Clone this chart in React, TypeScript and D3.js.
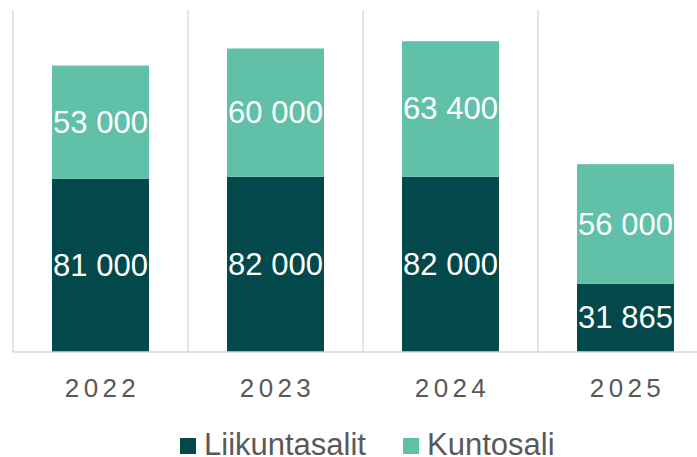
import { useMemo } from 'react';
import * as d3 from 'd3';

const years = ['2022', '2023', '2024', '2025'];
const liikuntasalit = [81000, 82000, 82000, 31865];
const kuntosali = [53000, 60000, 63400, 56000];
const seriesNames = ['Liikuntasalit', 'Kuntosali'];
const seriesColors = ['#03494b', '#61c0a8'];

const width = 697,
  height = 457;
const PLOT = { left: 13, right: 713, top: 10, bottom: 352 };
const FONT = 'Arial, "Liberation Sans", sans-serif';

const fmt = (v: number) => d3.format(',')(v).replace(/,/g, ' ');

export default function App() {
  const xScale = useMemo(
    () =>
      d3
        .scaleBand()
        .domain(years)
        .range([PLOT.left, PLOT.right])
        .paddingInner(0.446)
        .paddingOuter(0.223),
    []
  );
  const yScale = useMemo(
    () => d3.scaleLinear().domain([0, 160000]).range([PLOT.bottom, PLOT.top]),
    []
  );

  const rows = years.map((y, i) => ({ year: y, Liikuntasalit: liikuntasalit[i], Kuntosali: kuntosali[i] }));
  const stacked = d3.stack<any>().keys(seriesNames)(rows);

  const step = xScale.step();
  const halfGap = (step * 0.446) / 2;

  // vertical gridlines on category borders
  const gridLines = years.map((y, i) => {
    const gx = (xScale(y) ?? 0) - halfGap;
    return (
      <line key={'g' + i} x1={gx} x2={gx} y1={PLOT.top} y2={PLOT.bottom} stroke="#d9d9d9" strokeWidth={1.3} />
    );
  });

  const bars = stacked.map((s, si) =>
    s.map((d, i) => {
      const x = xScale(years[i]) ?? 0;
      const y0 = yScale(d[0]);
      const y1 = yScale(d[1]);
      const v = d[1] - d[0];
      return (
        <g key={si + '-' + i}>
          <rect x={x} y={y1} width={xScale.bandwidth()} height={y0 - y1} fill={seriesColors[si]} />
          <text
            x={x + xScale.bandwidth() / 2}
            y={(y0 + y1) / 2}
            textAnchor="middle"
            dominantBaseline="central"
            fontSize={31}
            fill="#ffffff"
            fontFamily={FONT}
          >
            {fmt(v)}
          </text>
        </g>
      );
    })
  );

  const xLabels = years.map((y, i) => (
    <text
      key={'x' + i}
      x={(xScale(y) ?? 0) + xScale.bandwidth() / 2 + 2}
      y={397}
      textAnchor="middle"
      fontSize={26}
      letterSpacing={4.4}
      fill="#595959"
      fontFamily={FONT}
    >
      {y}
    </text>
  ));

  const legendX = [180, 403];
  const legend = seriesNames.map((name, i) => (
    <g key={'l' + i}>
      <rect x={legendX[i]} y={438} width={16} height={16} fill={seriesColors[i]} />
      <text x={legendX[i] + 24} y={455} fontSize={31} fill="#595959" fontFamily={FONT}>
        {name}
      </text>
    </g>
  ));

  return (
    <div style={{ position: 'absolute', left: 0, top: 0 }}>
      <svg width={width} height={height} style={{ display: 'block' }}>
        <rect width={width} height={height} fill="#ffffff" />
        {gridLines}
        {bars}
        <line x1={PLOT.left} x2={width} y1={PLOT.bottom} y2={PLOT.bottom} stroke="#d9d9d9" strokeWidth={1.3} />
        {xLabels}
        {legend}
      </svg>
    </div>
  );
}
